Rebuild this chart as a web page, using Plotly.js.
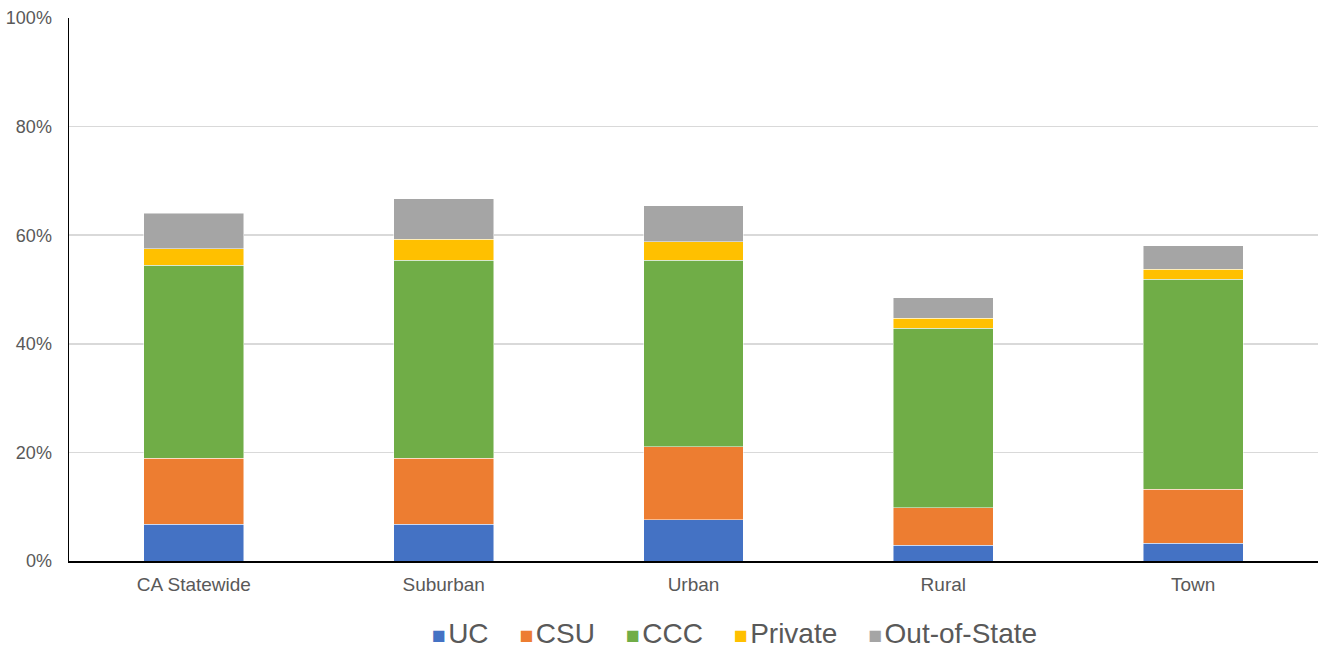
<!DOCTYPE html>
<html>
<head>
<meta charset="utf-8">
<script src="https://cdn.plot.ly/plotly-3.0.1.min.js"></script>
<style>html,body{margin:0;padding:0;background:#fff;}#chart{width:1321px;height:648px;}</style>
</head>
<body>
<div id="chart"></div>
<script>
const categories = ["CA Statewide", "Suburban", "Urban", "Rural", "Town"];
const seriesNames = ["UC", "CSU", "CCC", "Private", "Out-of-State"];
const UC = [6.8, 6.8, 7.6, 2.9, 3.3];
const CSU = [12.1, 12.1, 13.4, 6.9, 9.95];
const CCC = [35.6, 36.5, 34.4, 33.1, 38.65];
const Private = [3.05, 3.9, 3.4, 1.8, 1.8];
const OutOfState = [6.5, 7.4, 6.6, 3.8, 4.35];
const colors = ["#4472C4", "#ED7D31", "#70AD47", "#FFC000", "#A5A5A5"];
const yTickVals = [0, 20, 40, 60, 80, 100];
const yTickText = ["0%", "20%", "40%", "60%", "80%", "100%"];

const allSeries = [UC, CSU, CCC, Private, OutOfState];
const traces = allSeries.map((vals, i) => ({
  type: "bar",
  name: seriesNames[i],
  x: categories,
  y: vals,
  marker: {color: colors[i], line: {color: "rgba(255,255,255,0.6)", width: 0.8}},
  showlegend: false
}));

// Legend drawn as one centered text line (square glyph + name per series)
const legendText = seriesNames.map((n, i) =>
  `<span style="color:${colors[i]};font-size:23px">■</span><span style="font-size:8px">&nbsp;</span>${n}`
).join("&nbsp;&nbsp;&nbsp;&nbsp;");

const layout = {
  width: 1321, height: 648,
  margin: {l: 69, r: 3, t: 18, b: 87},
  paper_bgcolor: "#fff", plot_bgcolor: "#fff",
  barmode: "stack",
  bargap: 0.6,
  font: {family: "Liberation Sans, Arial, sans-serif", color: "#595959", size: 16},
  xaxis: {
    showline: true, linecolor: "#000", linewidth: 1.5,
    ticks: "", ticklabelstandoff: 6,
    tickfont: {size: 19, color: "#595959"},
    showgrid: false, fixedrange: true
  },
  yaxis: {
    range: [0, 100],
    tickvals: yTickVals, ticktext: yTickText,
    showline: true, linecolor: "#000", linewidth: 1.5,
    showgrid: true, gridcolor: "#d9d9d9", gridwidth: 1.5,
    zeroline: false, ticks: "", ticklabelstandoff: 12,
    tickfont: {size: 18, color: "#595959"}
  },
  annotations: [{
    xref: "paper", yref: "paper", x: 0.533, y: -0.134,
    xanchor: "center", yanchor: "middle", showarrow: false,
    text: legendText,
    font: {size: 28, color: "#595959"}
  }],
  showlegend: false
};

Plotly.newPlot("chart", traces, layout, {displayModeBar: false, staticPlot: true});
</script>
</body>
</html>
